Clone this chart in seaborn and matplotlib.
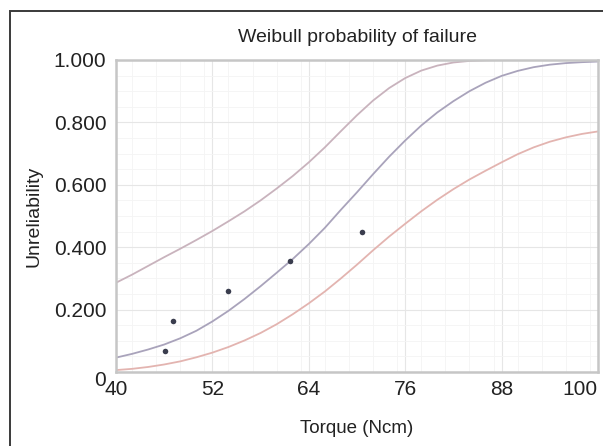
#! /usr/bin/env python3
import matplotlib
matplotlib.use('Agg')
from matplotlib import rcParams
from matplotlib.patches import Rectangle
from matplotlib.ticker import MultipleLocator
from matplotlib.transforms import ScaledTranslation
import matplotlib.pyplot as plt
import seaborn as sns

# settings
sns.set_style("white")
rcParams['font.family'] = ['Liberation Sans', 'DejaVu Sans']

# failure points (median ranks)
torque = [46.1, 47.1, 54.0, 61.7, 70.6]
unrel = [0.067, 0.162, 0.258, 0.355, 0.449]

# fitted curve and confidence bounds, every 2 Ncm
curve_x = [40, 42, 44, 46, 48, 50, 52, 54, 56, 58, 60, 62, 64, 66, 68, 70,
           72, 74, 76, 78, 80, 82, 84, 86, 88, 90, 92, 94, 96, 98, 100]
upper = [0.286, 0.312, 0.340, 0.368, 0.395, 0.423, 0.452, 0.483, 0.515, 0.550, 0.588, 0.628, 0.672, 0.720, 0.772, 0.823,
         0.870, 0.910, 0.942, 0.966, 0.982, 0.992, 0.997, 0.999, 1.0, 1.0, 1.0, 1.0, 1.0, 1.0, 1.0]
median = [0.046, 0.058, 0.072, 0.088, 0.108, 0.132, 0.162, 0.196, 0.234, 0.275, 0.318, 0.362, 0.410, 0.462, 0.520, 0.576,
          0.634, 0.690, 0.742, 0.790, 0.832, 0.868, 0.900, 0.927, 0.949, 0.965, 0.977, 0.985, 0.990, 0.993, 0.995]
lower = [0.006, 0.010, 0.016, 0.024, 0.034, 0.047, 0.062, 0.080, 0.101, 0.125, 0.153, 0.185, 0.220, 0.258, 0.300, 0.344,
         0.390, 0.434, 0.475, 0.515, 0.552, 0.586, 0.617, 0.645, 0.672, 0.698, 0.720, 0.738, 0.752, 0.763, 0.771]

xticks = [40, 52, 64, 76, 88, 100]
yticks = [0, 0.2, 0.4, 0.6, 0.8, 1.0]
ylabels = ['0', '0.200', '0.400', '0.600', '0.800', '1.000']

fig = plt.figure(figsize=(6.03, 4.46), dpi=100)
ax = fig.add_axes([0.1924, 0.166, 0.7993, 0.6995])

# outer frame
fig.patches.append(Rectangle((10/603, -0.05), 1.1, 1 - 11/446 + 0.05, transform=fig.transFigure,
                             fill=False, edgecolor='#3a3a3a', linewidth=1.4, clip_on=False))

sns.lineplot(x=curve_x, y=upper, ax=ax, color='#c9b3bd', linewidth=1.3)
sns.lineplot(x=curve_x, y=median, ax=ax, color='#a9a3bb', linewidth=1.3)
sns.lineplot(x=curve_x, y=lower, ax=ax, color='#e3b4b0', linewidth=1.3)
sns.scatterplot(x=torque, y=unrel, ax=ax, color='#3a3d4e', s=16, linewidth=0, zorder=5)

ax.set_xlim(40, 100)
ax.set_ylim(0, 1.0)
ax.set_xticks(xticks)
ax.set_yticks(yticks)
ax.set_yticklabels(ylabels)
ax.xaxis.set_minor_locator(MultipleLocator(3))
ax.yaxis.set_minor_locator(MultipleLocator(0.05))
ax.grid(True, which='major', color='#e6e6e6', linewidth=0.8)
ax.grid(True, which='minor', color='#f4f4f4', linewidth=0.6)
ax.set_axisbelow(True)
ax.tick_params(axis='both', which='both', length=0, labelsize=15, colors='#222222')
ax.tick_params(axis='x', pad=6)
ax.tick_params(axis='y', pad=7)
for s in ax.spines.values():
    s.set_color('#c6c6c6')
    s.set_linewidth(1.8)

# "0" sits a little low, "100" is pushed in from the edge
ax.get_yticklabels()[0].set_transform(ax.get_yticklabels()[0].get_transform() + ScaledTranslation(0, -5/72, fig.dpi_scale_trans))
ax.get_xticklabels()[-1].set_transform(ax.get_xticklabels()[-1].get_transform() + ScaledTranslation(-13/72, 0, fig.dpi_scale_trans))

ax.set_title('Weibull probability of failure', fontsize=14, color='#222222', pad=13)
ax.set_xlabel('Torque (Ncm)', fontsize=13.5, color='#222222', labelpad=15)
ax.set_ylabel('Unreliability', fontsize=14, color='#222222', labelpad=8)

fig.savefig('out.png', dpi=100)
plt.close()
